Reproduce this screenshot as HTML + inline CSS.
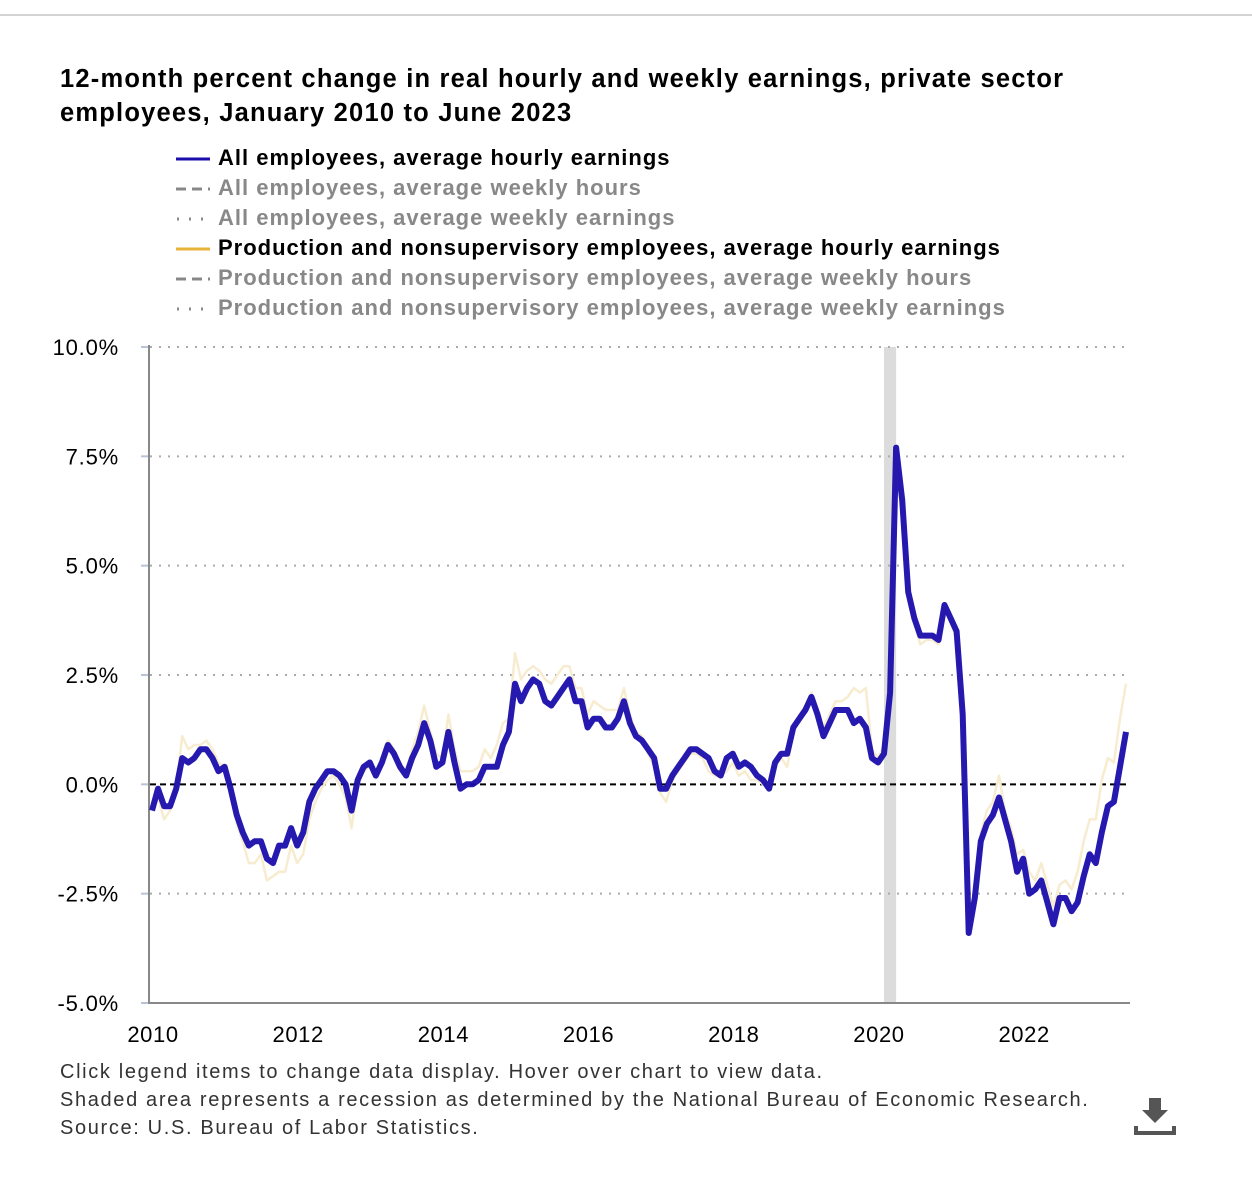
<!DOCTYPE html>
<html><head><meta charset="utf-8"><style>
body{margin:0;background:#fff;font-family:"Liberation Sans",sans-serif;}
#wrap{position:relative;width:1252px;height:1180px;overflow:hidden}
.topline{position:absolute;left:0;top:14px;width:1252px;height:2px;background:#d4d4d4}
h1{position:absolute;left:60px;top:62px;margin:0;font-size:25.5px;line-height:34px;font-weight:bold;color:#000;width:1150px;letter-spacing:1.2px;white-space:nowrap}
.leg{position:absolute;left:176px;font-size:22px;font-weight:bold;height:30px;line-height:30px;letter-spacing:1px;white-space:nowrap}
.leg svg{vertical-align:middle;margin-right:8px}
.foot{position:absolute;left:60px;top:1058px;font-size:20px;line-height:28px;color:#333;letter-spacing:1.65px;white-space:nowrap}
</style></head><body><div id="wrap">
<div class="topline"></div>
<h1>12-month percent change in real hourly and weekly earnings, private sector<br>employees, January 2010 to June 2023</h1>
<div class="leg" style="top:143px;color:#000"><svg width="34" height="4"><line x1="0" y1="2" x2="34" y2="2" stroke="#1a0dab" stroke-width="3"/></svg>All employees, average hourly earnings</div>
<div class="leg" style="top:173px;color:#888"><svg width="34" height="4"><line x1="0" y1="2" x2="34" y2="2" stroke="#888" stroke-width="3" stroke-dasharray="10,6"/></svg>All employees, average weekly hours</div>
<div class="leg" style="top:203px;color:#888"><svg width="34" height="4"><line x1="1" y1="2" x2="34" y2="2" stroke="#888" stroke-width="3" stroke-dasharray="2,10"/></svg>All employees, average weekly earnings</div>
<div class="leg" style="top:233px;color:#000"><svg width="34" height="4"><line x1="0" y1="2" x2="34" y2="2" stroke="#e8b339" stroke-width="3"/></svg>Production and nonsupervisory employees, average hourly earnings</div>
<div class="leg" style="top:263px;color:#888"><svg width="34" height="4"><line x1="0" y1="2" x2="34" y2="2" stroke="#888" stroke-width="3" stroke-dasharray="10,6"/></svg>Production and nonsupervisory employees, average weekly hours</div>
<div class="leg" style="top:293px;color:#888"><svg width="34" height="4"><line x1="1" y1="2" x2="34" y2="2" stroke="#888" stroke-width="3" stroke-dasharray="2,10"/></svg>Production and nonsupervisory employees, average weekly earnings</div>
<svg id="chart" width="1252" height="1180" style="position:absolute;left:0;top:0"></svg>
<div class="foot">Click legend items to change data display. Hover over chart to view data.<br>Shaded area represents a recession as determined by the National Bureau of Economic Research.<br>Source: U.S. Bureau of Labor Statistics.</div>
<svg style="position:absolute;left:1133px;top:1096px" width="44" height="44"><path d="M16 2h12v12h7L22 27 9 14h7z" fill="#555"/><rect x="1" y="35" width="42" height="4" fill="#555"/><rect x="1" y="30" width="4" height="9" fill="#555"/><rect x="39" y="30" width="4" height="9" fill="#555"/></svg>
</div>
<script>
const yTicks=[10,7.5,5,2.5,0,-2.5,-5];
const yTickLabels=["10.0%","7.5%","5.0%","2.5%","0.0%","-2.5%","-5.0%"];
const xTicks=[2010,2012,2014,2016,2018,2020,2022];
const allHourly=[-0.6,-0.1,-0.5,-0.5,-0.1,0.6,0.5,0.6,0.8,0.8,0.6,0.3,
0.4,-0.1,-0.7,-1.1,-1.4,-1.3,-1.3,-1.7,-1.8,-1.4,-1.4,-1.0,
-1.4,-1.1,-0.4,-0.1,0.1,0.3,0.3,0.2,0.0,-0.6,0.1,0.4,
0.5,0.2,0.5,0.9,0.7,0.4,0.2,0.6,0.9,1.4,1.0,0.4,
0.5,1.2,0.5,-0.1,0.0,0.0,0.1,0.4,0.4,0.4,0.9,1.2,
2.3,1.9,2.2,2.4,2.3,1.9,1.8,2.0,2.2,2.4,1.9,1.9,
1.3,1.5,1.5,1.3,1.3,1.5,1.9,1.4,1.1,1.0,0.8,0.6,
-0.1,-0.1,0.2,0.4,0.6,0.8,0.8,0.7,0.6,0.3,0.2,0.6,
0.7,0.4,0.5,0.4,0.2,0.1,-0.1,0.5,0.7,0.7,1.3,1.5,
1.7,2.0,1.6,1.1,1.4,1.7,1.7,1.7,1.4,1.5,1.3,0.6,
0.5,0.7,2.1,7.7,6.5,4.4,3.8,3.4,3.4,3.4,3.3,4.1,
3.8,3.5,1.6,-3.4,-2.6,-1.3,-0.9,-0.7,-0.3,-0.8,-1.3,-2.0,
-1.7,-2.5,-2.4,-2.2,-2.7,-3.2,-2.6,-2.6,-2.9,-2.7,-2.1,-1.6,
-1.8,-1.1,-0.5,-0.4,0.4,1.2];
const prodHourly=[-0.5,-0.3,-0.8,-0.6,-0.1,1.1,0.8,0.9,0.9,1.0,0.8,0.5,
0.4,-0.2,-0.9,-1.3,-1.8,-1.8,-1.6,-2.2,-2.1,-2.0,-2.0,-1.4,
-1.8,-1.6,-0.8,-0.4,-0.1,0.1,0.2,0.0,-0.3,-1.0,0.0,0.3,
0.4,0.3,0.5,1.0,0.8,0.5,0.3,0.8,1.2,1.8,1.2,0.7,
0.6,1.6,0.8,0.3,0.3,0.3,0.4,0.8,0.6,0.9,1.4,1.5,
3.0,2.4,2.6,2.7,2.6,2.4,2.3,2.5,2.7,2.7,2.2,2.2,
1.6,1.9,1.8,1.7,1.7,1.7,2.2,1.6,1.2,1.1,0.7,0.4,
-0.2,-0.4,0.1,0.3,0.5,0.7,0.7,0.6,0.3,0.2,0.2,0.3,
0.5,0.2,0.3,0.1,0.1,0.0,-0.1,0.4,0.6,0.4,1.2,1.6,
1.8,2.1,1.7,1.3,1.6,1.9,1.9,2.0,2.2,2.1,2.2,0.8,
0.6,0.9,2.4,7.5,6.3,4.3,3.7,3.2,3.3,3.3,3.2,4.0,
3.7,3.3,1.5,-3.3,-2.4,-1.1,-0.6,-0.4,0.2,-0.6,-1.0,-1.6,
-1.5,-2.0,-2.2,-1.8,-2.3,-2.8,-2.3,-2.2,-2.4,-2.0,-1.3,-0.8,
-0.8,0.1,0.6,0.5,1.5,2.3];
const recession=[2020+1/12,2020+3/12];
const x0=152,x1=1126,y10=347,ym5=1003;
const X=t=>x0+(t-2010)/(2023+5/12-2010)*(x1-x0);
const Y=v=>y10+(10-v)/15*(ym5-y10);
const NS="http://www.w3.org/2000/svg",svg=document.getElementById('chart');
function mk(tag,at,parent){const e=document.createElementNS(NS,tag);for(const k in at)e.setAttribute(k,at[k]);(parent||svg).appendChild(e);return e;}
let r=mk('rect',{x:X(recession[0]),y:Y(10),width:X(recession[1])-X(recession[0]),height:Y(-5)-Y(10),fill:'#dcdcdc'});


yTicks.forEach((v,i)=>{
 if(v!==0&&v!==-5){let g=mk('line',{x1:150,x2:1130,y1:Y(v),y2:Y(v),stroke:'#aaa','stroke-width':2,'stroke-dasharray':'2,7'});
 
 }
 let tk=mk('line',{x1:141,x2:150,y1:Y(v),y2:Y(v),stroke:'#b8c4d8','stroke-width':2});
 
 
 let t=mk('text',{x:119,y:Y(v)+8,'text-anchor':'end','font-size':22,'letter-spacing':0.8,fill:'#000','font-family':'Liberation Sans'});t.textContent=yTickLabels[i];
 
 
});
xTicks.forEach(yr=>{let t=mk('text',{x:X(yr)+1,y:1042,'text-anchor':'middle','font-size':22,'letter-spacing':0.6,fill:'#000','font-family':'Liberation Sans'});t.textContent=yr;
 
 });
let ax=mk('line',{x1:149,x2:149,y1:345,y2:1004,stroke:'#888','stroke-width':2});


let bx=mk('line',{x1:148,x2:1130,y1:1003,y2:1003,stroke:'#888','stroke-width':2});


let z=mk('line',{x1:150,x2:1130,y1:Y(0),y2:Y(0),stroke:'#000','stroke-width':2,'stroke-dasharray':'6,4'});


const pts=a=>a.map((v,i)=>X(2010+i/12).toFixed(1)+','+Y(v).toFixed(1)).join(' ');
let p2=mk('polyline',{points:pts(prodHourly),fill:'none',stroke:'#f7ecd0','stroke-width':2.5,'stroke-linejoin':'round'});


let p1=mk('polyline',{points:pts(allHourly),fill:'none',stroke:'#1a0dab','stroke-width':6,'stroke-linejoin':'round','stroke-opacity':0.95});


</script></body></html>
